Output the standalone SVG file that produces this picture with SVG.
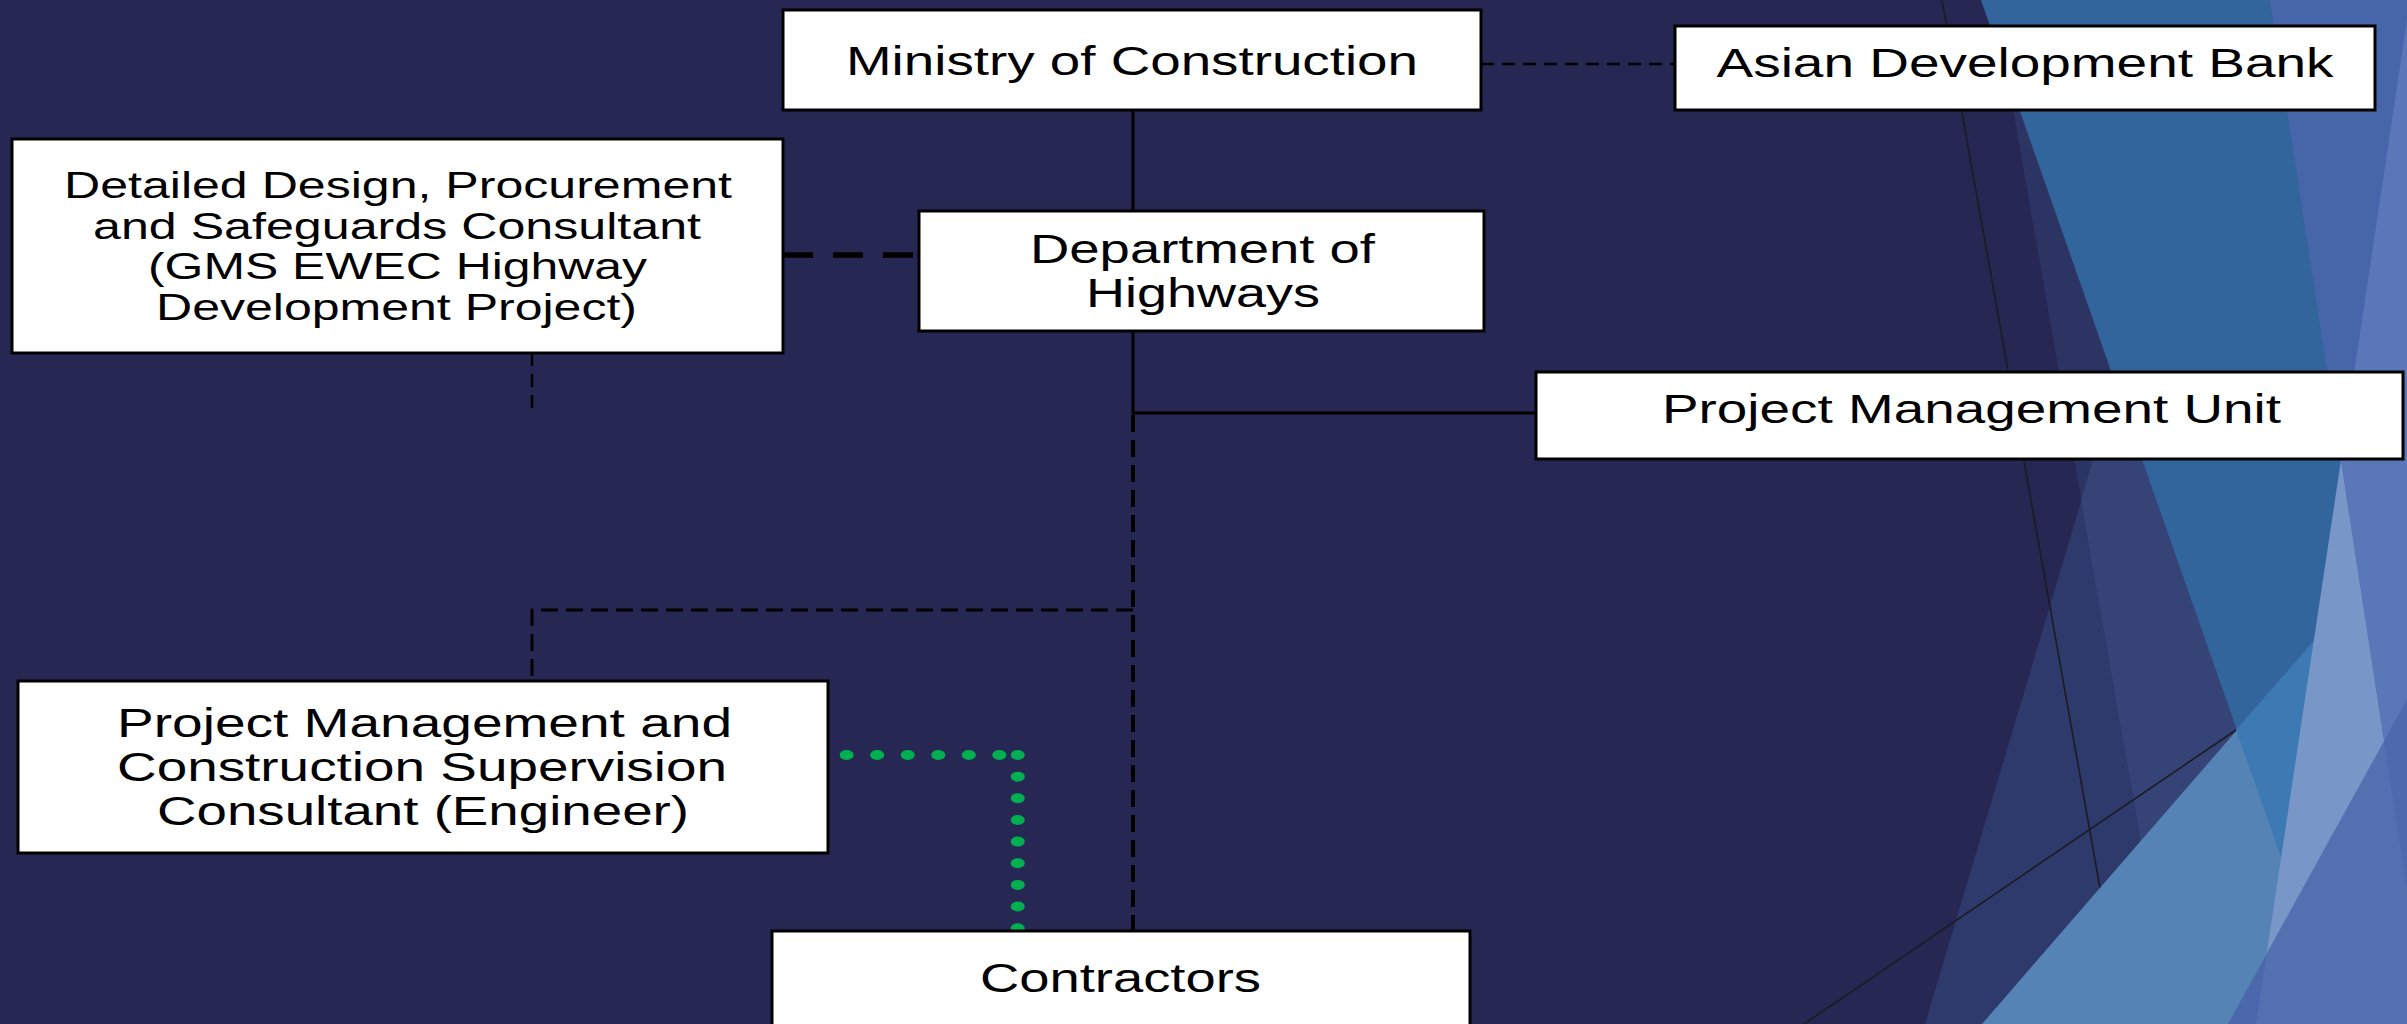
<svg xmlns="http://www.w3.org/2000/svg" width="2407" height="1024" viewBox="0 0 2407 1024">
<style>
.box{fill:#ffffff;stroke:#000000;stroke-width:3}
.t{font-family:"Liberation Sans",Arial,sans-serif;font-size:40px;fill:#000000;text-anchor:middle}
.t36{font-size:36px}
.solid{fill:none;stroke:#000000;stroke-width:3}
.dash{fill:none;stroke:#000000;stroke-width:3;stroke-dasharray:17 8}
.thin{fill:none;stroke:#000000;stroke-width:2.5;stroke-dasharray:13 8}
.thick{fill:none;stroke:#000000;stroke-width:5.5;stroke-dasharray:30 20}
.dots{fill:none;stroke:#00B050;stroke-width:10;stroke-linecap:round;stroke-dasharray:0 21.65}
</style>
<g id="background">
<rect x="0" y="0" width="2407" height="1024" fill="#262853"/>
<polygon points="1994,0 2407,0 2407,1024 2173,1024" fill="#2c3464"/>
<polygon points="2231,0 2407,0 2407,1024 1925,1024" fill="#2d3a6b"/>
<polygon points="2231,0 2407,0 2407,1024 2173,1024 2081,500" fill="#354377"/>
<line x1="1942" y1="0" x2="2100" y2="888" stroke="#1c1c24" stroke-width="1.6"/>
<line x1="1804" y1="1024" x2="2236" y2="730" stroke="#1c1c24" stroke-width="1.6"/>
<polygon points="1981,0 2407,0 2407,1024 2340,1024" fill="#33659d"/>
<polygon points="1982,1024 2407,534 2407,1024" fill="#5583b5"/>
<polygon points="2236,730 2407,534 2407,1024 2340,1024" fill="#3d7ab3"/>
<polygon points="2270,0 2407,0 2407,890" fill="#4766aa"/>
<polygon points="2341,460 2256,1024 2407,1024 2407,890" fill="#7896c8"/>
<polygon points="2341,460 2407,20 2407,890" fill="#5a78b8"/>
<polygon points="2407,700 2228,1024 2407,1024" fill="#4b68ad"/>
<polygon points="2267,953 2256,1024 2407,1024 2407,700" fill="#5470b0"/>
<polygon points="2384,741 2407,890 2407,700" fill="#4e6aae"/>
</g>
<g id="connectors">
<line class="solid" x1="1133" y1="110" x2="1133" y2="211"/>
<polyline class="solid" points="1133,331 1133,413 1536,413"/>
<line class="dash" x1="1133" y1="415" x2="1133" y2="931" style="stroke-width:4"/>
<polyline class="dash" points="1133,610 532,610 532,681"/>
<line class="thin" x1="532" y1="353" x2="532" y2="415"/>
<line class="thin" x1="1481" y1="64" x2="1675" y2="64"/>
<line class="thick" x1="783" y1="255" x2="919" y2="255"/>
<g transform="scale(1.41 1)">
<path class="dots" d="M600.5 755 H721.8"/>
<path class="dots" d="M721.8 755 V929"/>
</g>
</g>
<g id="ministry">
<rect class="box" x="783" y="10" width="698" height="100"/>
<text class="t" x="1132" y="75" textLength="572" lengthAdjust="spacingAndGlyphs">Ministry of Construction</text>
</g>
<g id="adb">
<rect class="box" x="1675" y="26" width="700" height="84"/>
<text class="t" x="2025" y="77" textLength="617" lengthAdjust="spacingAndGlyphs">Asian Development Bank</text>
</g>
<g id="detailed-design">
<rect class="box" x="12" y="139" width="771" height="214"/>
<text class="t t36" x="398" y="198" textLength="668" lengthAdjust="spacingAndGlyphs">Detailed Design, Procurement</text>
<text class="t t36" x="397" y="238.5" textLength="608" lengthAdjust="spacingAndGlyphs">and Safeguards Consultant</text>
<text class="t t36" x="397.5" y="279" textLength="499" lengthAdjust="spacingAndGlyphs">(GMS EWEC Highway</text>
<text class="t t36" x="396.5" y="320" textLength="481" lengthAdjust="spacingAndGlyphs">Development Project)</text>
</g>
<g id="department">
<rect class="box" x="919" y="211" width="565" height="120"/>
<text class="t" x="1202.5" y="263" textLength="345" lengthAdjust="spacingAndGlyphs">Department of</text>
<text class="t" x="1203" y="307" textLength="234" lengthAdjust="spacingAndGlyphs">Highways</text>
</g>
<g id="pmu">
<rect class="box" x="1536" y="372" width="867" height="87"/>
<text class="t" x="1971.5" y="423" textLength="619" lengthAdjust="spacingAndGlyphs">Project Management Unit</text>
</g>
<g id="pmcsc">
<rect class="box" x="18" y="681" width="810" height="172"/>
<text class="t" x="424.5" y="737" textLength="615" lengthAdjust="spacingAndGlyphs">Project Management and</text>
<text class="t" x="422" y="781" textLength="610" lengthAdjust="spacingAndGlyphs">Construction Supervision</text>
<text class="t" x="423" y="825" textLength="532" lengthAdjust="spacingAndGlyphs">Consultant (Engineer)</text>
</g>
<g id="contractors">
<rect class="box" x="772" y="931" width="698" height="110"/>
<text class="t" x="1120.5" y="992" textLength="281" lengthAdjust="spacingAndGlyphs">Contractors</text>
</g>
</svg>
